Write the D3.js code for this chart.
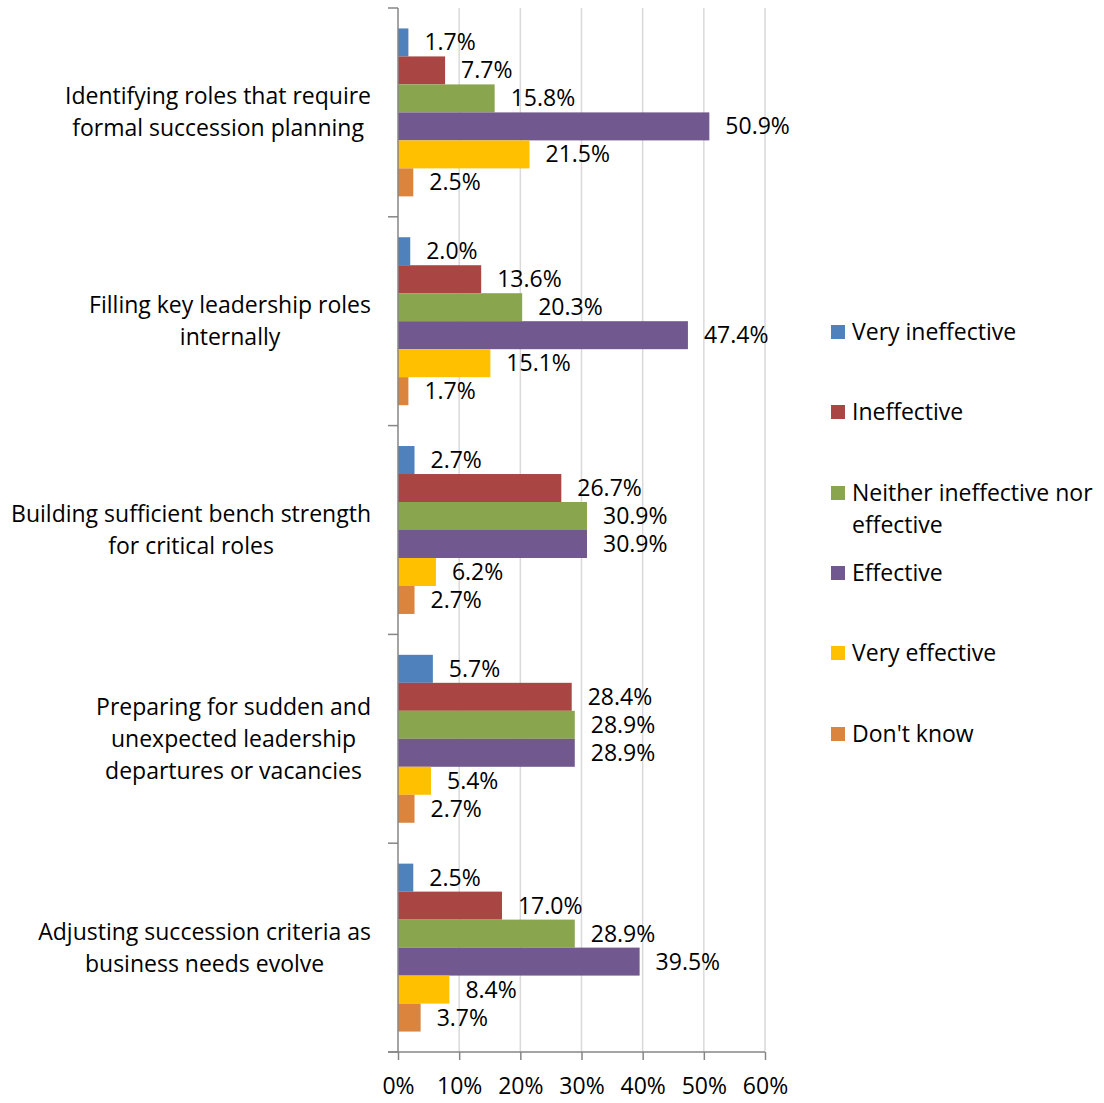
<!DOCTYPE html>
<html>
<head>
<meta charset="utf-8">
<script src="https://cdn.jsdelivr.net/npm/d3@7"></script>
<style>
  body { margin: 0; background: #fff; }
  svg text { font-family: "Open Sans", "Noto Sans", sans-serif; fill: #000; }
</style>
</head>
<body>
<svg id="chart"></svg>
<script>
const categories = [
  ["Identifying roles that require", "formal succession planning"],
  ["Filling key leadership roles", "internally"],
  ["Building sufficient bench strength", "for critical roles"],
  ["Preparing for sudden and", "unexpected leadership", "departures or vacancies"],
  ["Adjusting succession criteria as", "business needs evolve"]
];
const seriesNames = ["Very ineffective", "Ineffective", "Neither ineffective nor effective", "Effective", "Very effective", "Don't know"];
const legendLines = [["Very ineffective"], ["Ineffective"], ["Neither ineffective nor", "effective"], ["Effective"], ["Very effective"], ["Don't know"]];
const colors = ["#4F81BD", "#A94643", "#89A54E", "#71588F", "#FFC000", "#DB843D"];
const veryIneffective = [1.7, 2.0, 2.7, 5.7, 2.5];
const ineffective = [7.7, 13.6, 26.7, 28.4, 17.0];
const neither = [15.8, 20.3, 30.9, 28.9, 28.9];
const effective = [50.9, 47.4, 30.9, 28.9, 39.5];
const veryEffective = [21.5, 15.1, 6.2, 5.4, 8.4];
const dontKnow = [2.5, 1.7, 2.7, 2.7, 3.7];
const xTicks = [0, 10, 20, 30, 40, 50, 60];

const seriesValues = [veryIneffective, ineffective, neither, effective, veryEffective, dontKnow];

const W = 1104, H = 1103;
const plot = { left: 398, right: 765, top: 8, bottom: 1052 };
const fontSize = 23;

const svg = d3.select("#chart").attr("width", W).attr("height", H);

const x = d3.scaleLinear().domain([0, 60]).range([plot.left, plot.right]);
const y = d3.scaleBand().domain(d3.range(categories.length)).range([plot.top, plot.bottom]).padding(0);
const ySub = d3.scaleBand().domain(d3.range(seriesNames.length)).range([0, y.bandwidth()])
  .paddingInner(0).paddingOuter(0.73);

// gridlines
svg.append("g").selectAll("line").data(xTicks.slice(1)).join("line")
  .attr("x1", d => x(d)).attr("x2", d => x(d))
  .attr("y1", plot.top).attr("y2", plot.bottom)
  .attr("stroke", "#D9D9D9").attr("stroke-width", 1.5);

// bars
const groups = svg.append("g").selectAll("g").data(categories).join("g")
  .attr("transform", (d, i) => `translate(0,${y(i)})`);

groups.each(function (cat, ci) {
  const g = d3.select(this);
  const rows = seriesValues.map((vals, si) => ({ si, v: vals[ci] }));
  g.selectAll("rect").data(rows).join("rect")
    .attr("x", x(0))
    .attr("y", d => ySub(d.si))
    .attr("width", d => x(d.v) - x(0))
    .attr("height", ySub.bandwidth())
    .attr("fill", d => colors[d.si]);
  g.selectAll("text").data(rows).join("text")
    .attr("x", d => x(d.v) + 16)
    .attr("y", d => ySub(d.si) + ySub.bandwidth() / 2)
    .attr("dy", "0.35em")
    .attr("font-size", fontSize)
    .text(d => d.v.toFixed(1) + "%");
});

// axes
const axisColor = "#868686";
const xAxis = svg.append("g").attr("transform", `translate(0,${plot.bottom})`)
  .call(d3.axisBottom(x).tickValues(xTicks).tickFormat(d => d + "%").tickSizeInner(8).tickSizeOuter(0).tickPadding(18));
xAxis.select(".domain").attr("stroke", axisColor).attr("stroke-width", 1.5).attr("d", `M${plot.left - 10},0H${plot.right}`);
xAxis.selectAll(".tick line").attr("stroke", axisColor).attr("stroke-width", 1.5);
xAxis.selectAll(".tick text").attr("font-size", fontSize).attr("font-family", null).attr("fill", "#000");

const yAxisG = svg.append("g");
yAxisG.append("line")
  .attr("x1", plot.left).attr("x2", plot.left)
  .attr("y1", plot.top).attr("y2", plot.bottom)
  .attr("stroke", axisColor).attr("stroke-width", 1.5);
const bounds = y.domain().map(i => y(i)).concat([plot.bottom]);
yAxisG.selectAll("line.tk").data(bounds).join("line").attr("class", "tk")
  .attr("x1", plot.left - 10).attr("x2", plot.left)
  .attr("y1", d => d).attr("y2", d => d)
  .attr("stroke", axisColor).attr("stroke-width", 1.5);

// category labels: centered lines, block right-aligned
const lineH = 32;
categories.forEach((lines, ci) => {
  const g = svg.append("g");
  const texts = g.selectAll("text").data(lines).join("text")
    .attr("font-size", fontSize)
    .attr("text-anchor", "middle")
    .attr("y", (d, li) => y(ci) + y.bandwidth() / 2 + (li - (lines.length - 1) / 2) * lineH)
    .attr("dy", "0.35em")
    .text(d => d);
  let maxW = 0;
  texts.each(function () { maxW = Math.max(maxW, this.getComputedTextLength()); });
  texts.attr("x", 371 - maxW / 2);
});

// legend
const legendY = [332, 412, 493, 573, 653, 734];
const legend = svg.append("g");
legendLines.forEach((lines, si) => {
  legend.append("rect")
    .attr("x", 831).attr("y", legendY[si] - 7).attr("width", 14).attr("height", 14)
    .attr("fill", colors[si]);
  legend.append("g").selectAll("text").data(lines).join("text")
    .attr("x", 852)
    .attr("y", (d, li) => legendY[si] + li * lineH)
    .attr("dy", "0.35em")
    .attr("font-size", fontSize)
    .text(d => d);
});
</script>
</body>
</html>
